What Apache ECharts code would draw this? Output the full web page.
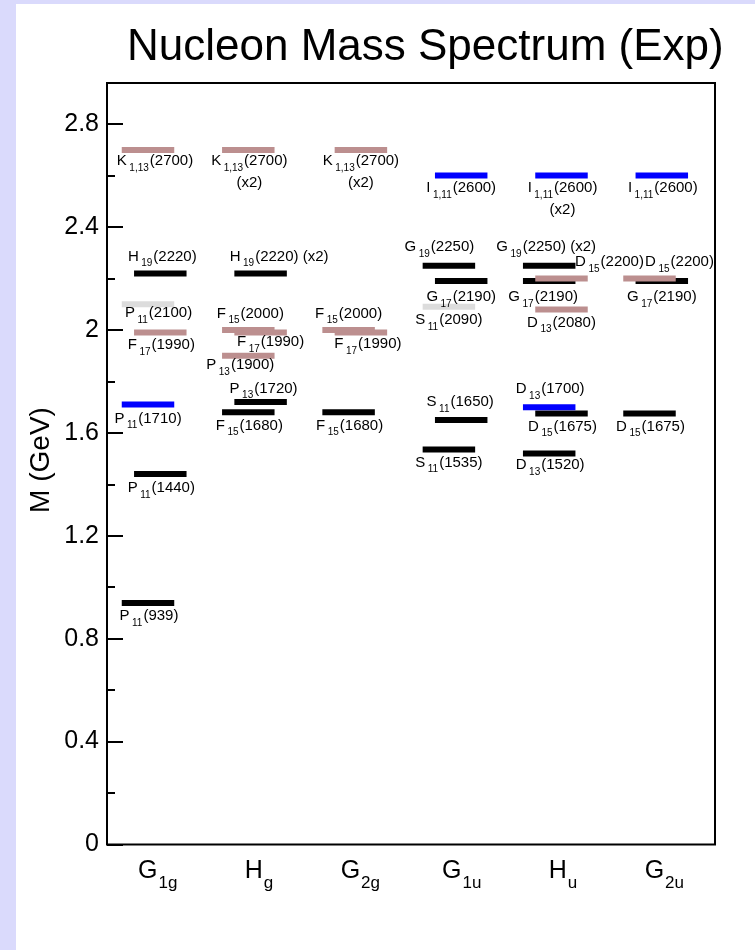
<!DOCTYPE html>
<html><head><meta charset="utf-8">
<script src="https://cdn.jsdelivr.net/npm/echarts@6/dist/echarts.min.js"></script>
<style>
html,body{margin:0;padding:0;background:#dadafc;width:755px;height:950px;overflow:hidden;}
#c{position:absolute;left:16px;top:4px;width:739px;height:946px;background:#fff;}
</style>
</head><body><div id="c"></div>
<script>
const FONT = '"Liberation Sans", Arial, Helvetica, sans-serif';

// ---- data ----
const categories = ['G_{1g}', 'H_{g}', 'G_{2g}', 'G_{1u}', 'H_{u}', 'G_{2u}'];
const yTickValues = [0, 0.4, 0.8, 1.2, 1.6, 2.0, 2.4, 2.8];
const yTickLabels = ['0', '0.4', '0.8', '1.2', '1.6', '2', '2.4', '2.8'];
const yMinorTickValues = [0.2, 0.6, 1.0, 1.4, 1.8, 2.2, 2.6];

// states per irrep: [slot, mass (GeV), colour, label]
const G1g = [
  ['L', 2.700, 'brown', 'K_{1,13}(2700)'],
  ['R', 2.220, 'black', 'H_{19}(2220)'],
  ['L', 2.100, 'gray',  'P_{11}(2100)'],
  ['R', 1.990, 'brown', 'F_{17}(1990)'],
  ['L', 1.710, 'blue',  'P_{11}(1710)'],
  ['R', 1.440, 'black', 'P_{11}(1440)'],
  ['L', 0.939, 'black', 'P_{11}(939)']
];
const Hg = [
  ['L', 2.700, 'brown', 'K_{1,13}(2700)\n(x2)'],
  ['R', 2.220, 'black', 'H_{19}(2220) (x2)'],
  ['L', 2.000, 'brown', 'F_{15}(2000)'],
  ['R', 1.990, 'brown', 'F_{17}(1990)'],
  ['L', 1.900, 'brown', 'P_{13}(1900)'],
  ['R', 1.720, 'black', 'P_{13}(1720)'],
  ['L', 1.680, 'black', 'F_{15}(1680)']
];
const G2g = [
  ['R', 2.700, 'brown', 'K_{1,13}(2700)\n(x2)'],
  ['L', 2.000, 'brown', 'F_{15}(2000)'],
  ['R', 1.990, 'brown', 'F_{17}(1990)'],
  ['L', 1.680, 'black', 'F_{15}(1680)']
];
const G1u = [
  ['R', 2.600, 'blue',  'I_{1,11}(2600)'],
  ['L', 2.250, 'black', 'G_{19}(2250)'],
  ['R', 2.190, 'black', 'G_{17}(2190)'],
  ['L', 2.090, 'gray',  'S_{11}(2090)'],
  ['R', 1.650, 'black', 'S_{11}(1650)'],
  ['L', 1.535, 'black', 'S_{11}(1535)']
];
const Hu = [
  ['R', 2.600, 'blue',  'I_{1,11}(2600)\n(x2)'],
  ['L', 2.250, 'black', 'G_{19}(2250) (x2)'],
  ['L', 2.190, 'black', 'G_{17}(2190)'],
  ['R', 2.200, 'brown', 'D_{15}(2200)'],
  ['R', 2.080, 'brown', 'D_{13}(2080)'],
  ['R', 1.675, 'black', 'D_{15}(1675)'],
  ['L', 1.700, 'blue',  'D_{13}(1700)'],
  ['L', 1.520, 'black', 'D_{13}(1520)']
];
const G2u = [
  ['R', 2.600, 'blue',  'I_{1,11}(2600)'],
  ['R', 2.190, 'black', 'G_{17}(2190)'],
  ['L', 2.200, 'brown', 'D_{15}(2200)'],
  ['L', 1.675, 'black', 'D_{15}(1675)']
];
const irreps = [G1g, Hg, G2g, G1u, Hu, G2u];

// ---- label placement (px offsets of label from its bar centre) ----
const labelPos = [
  [[7, 11], [2, -17], [10.5, 9], [1, 12.5], [0, 14], [1, 14], [1, 13]],
  [[1, 11], [18.5, -17], [2, -16.5], [10, 9.3], [-8, 9.3], [3, -13.6], [1, 13.2]],
  [[0, 11], [0, -16.5], [7, 11.8], [1, 13.2]],
  [[0, 12.7], [-9.5, -18.8], [0, 15.7], [0, 13.3], [-1, -18], [0, 13]],
  [[1, 12.7], [-3, -18.8], [-6, 15.7], [48, -16.7], [0, 13], [1, 12.8], [1, -18.3], [1, 11.3]],
  [[1, 12.7], [0, 15.7], [30, -16.7], [1, 12.8]]
];

// ---- styling / layout constants ----
const COLORS = { black: '#000000', brown: '#bc8f8f', blue: '#0000ff', gray: '#dcdcdc' };
const SLOT = { L: 0.4046, R: 0.526 };
const COL_STEP = 0.9898;
const BAR_W = 0.518;
const BAR_H = 6;
const LBL_LINE = 22;

function toRich(label) {
  return label.split('\n').map(function (line) {
    let out = '', last = 0, mm;
    const re = /_\{([^}]*)\}/g;
    while ((mm = re.exec(line))) {
      if (mm.index > last) out += '{m|' + line.slice(last, mm.index) + '}';
      out += '{s|' + mm[1] + '}';
      last = re.lastIndex;
    }
    if (last < line.length) out += '{m|' + line.slice(last) + '}';
    return out;
  }).join('\n');
}

const items = [];
irreps.forEach(function (list, ci) {
  list.forEach(function (st, k) {
    items.push({ x: ci * COL_STEP + SLOT[st[0]], m: st[1], color: COLORS[st[2]], label: st[3], off: labelPos[ci][k] });
  });
});
// draw black levels first so coloured ones overlay
const ordered = items.filter(d => d.color === COLORS.black).concat(items.filter(d => d.color !== COLORS.black));

const TEXT_RICH = {
  m: { fontSize: 15, lineHeight: LBL_LINE, fontFamily: FONT, fill: '#000' },
  s: { fontSize: 10, lineHeight: LBL_LINE, padding: [14, 1, 0, 2.5], fontFamily: FONT, fill: '#000' }
};

function renderItem(params, api) {
  const d = ordered[params.dataIndex];
  const p = api.coord([api.value(0), api.value(1)]);
  const w = api.size([BAR_W, 0])[0];
  return {
    type: 'group',
    children: [
      { type: 'rect', shape: { x: p[0] - w / 2, y: p[1] - BAR_H / 2, width: w, height: BAR_H }, style: { fill: d.color } },
      { type: 'text', x: p[0] + d.off[0], y: p[1] + d.off[1] - LBL_LINE / 2, z2: 10,
        style: { text: toRich(d.label), rich: TEXT_RICH, align: 'center', verticalAlign: 'top', fill: '#000', fontFamily: FONT, fontSize: 15 } }
    ]
  };
}

const chart = echarts.init(document.getElementById('c'), null, { renderer: 'canvas' });
chart.setOption({
  backgroundColor: '#ffffff',
  animation: false,
  title: {
    text: 'Nucleon Mass Spectrum (Exp)', left: 111, top: 21.5, padding: 0,
    textStyle: { fontSize: 44, fontWeight: 'normal', color: '#000', fontFamily: FONT }
  },
  grid: { left: 91, right: 40, top: 79, bottom: 105.5, show: true, borderColor: '#000', borderWidth: 2, backgroundColor: 'transparent' },
  xAxis: [
    {
      type: 'category', data: categories, position: 'bottom',
      axisLine: { show: false }, axisTick: { show: false }, splitLine: { show: false },
      axisLabel: {
        margin: 9.5, color: '#000', fontFamily: FONT,
        formatter: function (v) { return toRich(v); },
        rich: {
          m: { fontSize: 25, lineHeight: 34, color: '#000', fontFamily: FONT },
          s: { fontSize: 17, lineHeight: 34, padding: [25, 0, 0, 1], color: '#000', fontFamily: FONT }
        }
      }
    },
    { type: 'value', min: 0, max: 6, show: false }
  ],
  yAxis: [
    {
      type: 'value', min: 0, max: 2.96,
      axisLine: { show: false }, splitLine: { show: false },
      axisTick: { show: true, inside: true, length: 16, customValues: yTickValues, lineStyle: { color: '#000', width: 2 } },
      axisLabel: {
        customValues: yTickValues, margin: 8, fontSize: 25, color: '#000', fontFamily: FONT,
        formatter: function (v) {
          let best = 0;
          yTickValues.forEach(function (t, i) { if (Math.abs(t - v) < Math.abs(yTickValues[best] - v)) best = i; });
          return yTickLabels[best];
        }
      }
    },
    {
      type: 'value', min: 0, max: 2.96, position: 'left',
      axisLine: { show: false }, splitLine: { show: false }, axisLabel: { show: false },
      axisTick: { show: true, inside: true, length: 8, customValues: yMinorTickValues, lineStyle: { color: '#000', width: 2 } }
    }
  ],
  graphic: [
    { type: 'text', x: 25.5, y: 456, rotation: Math.PI / 2,
      style: { text: 'M (GeV)', fontSize: 28, fill: '#000', align: 'center', verticalAlign: 'middle', fontFamily: FONT } }
  ],
  series: [{
    type: 'custom', xAxisIndex: 1, yAxisIndex: 0, clip: false,
    renderItem: renderItem,
    data: ordered.map(d => [d.x, d.m])
  }]
});
</script>
</body></html>
